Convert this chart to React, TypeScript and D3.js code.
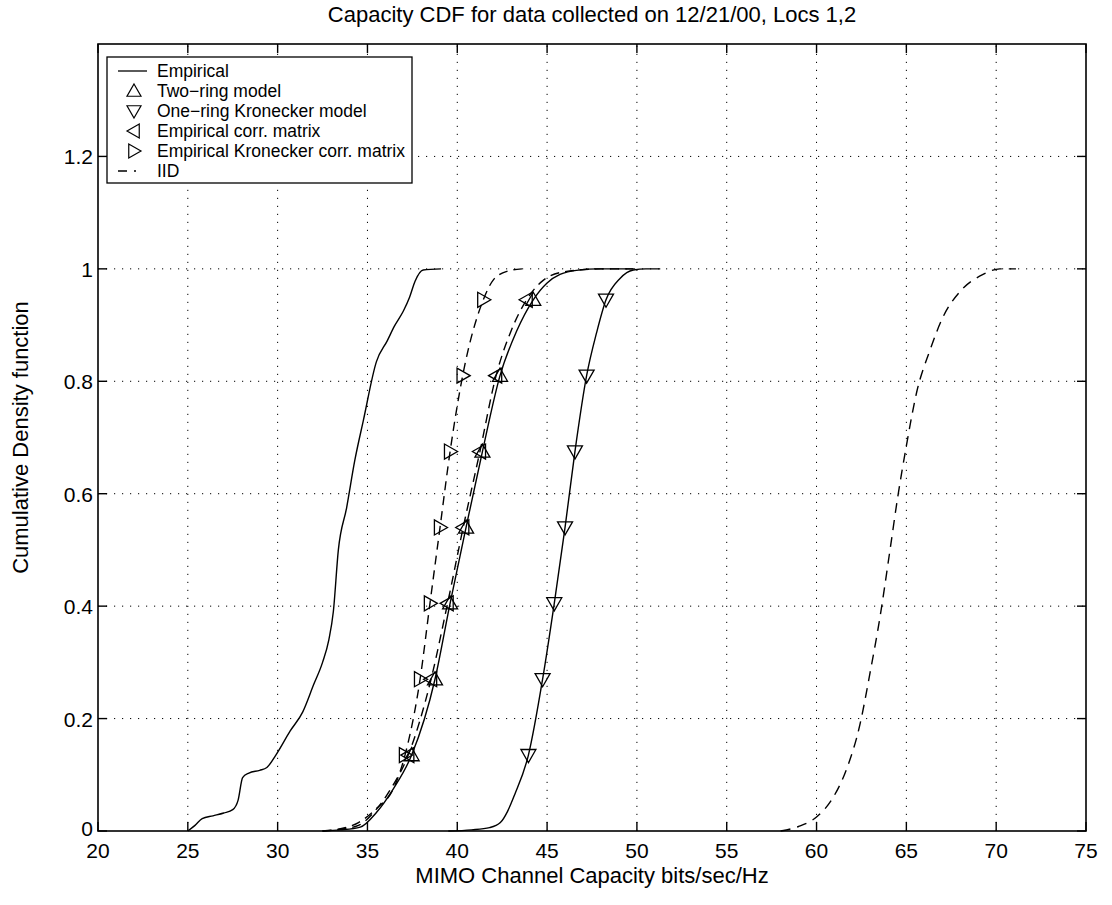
import React from "react";
import * as d3 from "d3";

const xTicks = [20, 25, 30, 35, 40, 45, 50, 55, 60, 65, 70, 75];
const yTicks = [0, 0.2, 0.4, 0.6, 0.8, 1, 1.2];

const empirical: [number, number][] = [
  [25.0, 0], [25.4, 0.01], [25.8, 0.022], [26.4, 0.027], [27.0, 0.032], [27.5, 0.038],
  [27.8, 0.055], [28.05, 0.095], [28.4, 0.103], [29.0, 0.108], [29.4, 0.113], [29.9, 0.135],
  [30.7, 0.178], [31.4, 0.212], [32.0, 0.26], [32.5, 0.3], [32.85, 0.34], [33.1, 0.39],
  [33.38, 0.5], [33.84, 0.575], [34.3, 0.66], [34.77, 0.73], [35.5, 0.835], [36.1, 0.872],
  [36.5, 0.898], [37.0, 0.925], [37.35, 0.95], [37.65, 0.978], [38.1, 0.998], [39.1, 1.0],
];

const twoRing: [number, number][] = [
  [32.5, 0], [33.5, 0.002], [34.6, 0.007], [35.5, 0.033], [36.44, 0.075], [37.46, 0.135],
  [38.76, 0.27], [39.6, 0.405], [40.49, 0.54], [41.4, 0.675], [42.38, 0.81], [43.3, 0.889],
  [44.23, 0.945], [45.0, 0.975], [45.72, 0.99], [46.8, 0.998], [47.8, 1.0], [49.8, 1.0],
];

const empCorr: [number, number][] = [
  [32.5, 0], [33.5, 0.003], [34.5, 0.01], [35.4, 0.035], [36.3, 0.075], [37.27, 0.135],
  [38.54, 0.27], [39.46, 0.405], [40.33, 0.54], [41.26, 0.675], [42.16, 0.81], [43.0, 0.89],
  [43.86, 0.945], [44.8, 0.98], [46.0, 0.995], [48.0, 1.0], [50.0, 1.0],
];

const empKron: [number, number][] = [
  [32.5, 0], [33.5, 0.004], [34.5, 0.015], [35.5, 0.04], [36.44, 0.075], [37.09, 0.135],
  [37.93, 0.27], [38.48, 0.405], [39.04, 0.54], [39.6, 0.675], [40.3, 0.81], [41.45, 0.945],
  [42.0, 0.98], [42.8, 0.996], [43.6, 1.0],
];

const oneRing: [number, number][] = [
  [39.5, 0], [40.8, 0.002], [41.8, 0.006], [42.4, 0.015], [42.8, 0.035], [43.2, 0.065],
  [43.96, 0.135], [44.75, 0.27], [45.4, 0.405], [46.0, 0.54], [46.55, 0.675], [47.2, 0.81],
  [47.76, 0.887], [48.28, 0.945], [49.06, 0.983], [49.8, 0.998], [50.5, 1.0], [51.3, 1.0],
];

const iid: [number, number][] = [
  [58.0, 0], [59.0, 0.008], [60.0, 0.025], [60.93, 0.06], [61.67, 0.11], [62.42, 0.19],
  [62.97, 0.28], [63.53, 0.38], [64.09, 0.5], [64.5, 0.59], [65.0, 0.685], [65.57, 0.78],
  [66.31, 0.855], [67.05, 0.915], [68.0, 0.96], [69.27, 0.99], [70.2, 1.0], [71.1, 1.0],
];

const markY = [0.135, 0.27, 0.405, 0.54, 0.675, 0.81, 0.945];
const twoRingMarkX = [37.46, 38.76, 39.6, 40.49, 41.4, 42.38, 44.23];
const empCorrMarkX = [37.27, 38.54, 39.46, 40.33, 41.26, 42.16, 43.86];
const empKronMarkX = [37.09, 37.93, 38.48, 39.04, 39.6, 40.3, 41.45];
const oneRingMarkX = [43.96, 44.75, 45.4, 46.0, 46.55, 47.2, 48.28];

const legendLabels = [
  "Empirical",
  "Two\u2212ring model",
  "One\u2212ring Kronecker model",
  "Empirical corr. matrix",
  "Empirical Kronecker corr. matrix",
  "IID",
];

const FONT = "'Liberation Sans', Arial, Helvetica, sans-serif";

type Dir = "up" | "down" | "left" | "right";

function triPath(cx: number, cy: number, dir: Dir, r = 7.5): string {
  let pts: [number, number][];
  if (dir === "up") pts = [[0, -r], [r, r * 0.75], [-r, r * 0.75]];
  else if (dir === "down") pts = [[0, r], [r, -r * 0.75], [-r, -r * 0.75]];
  else if (dir === "left") pts = [[-r, 0], [r * 0.75, -r], [r * 0.75, r]];
  else pts = [[r, 0], [-r * 0.75, -r], [-r * 0.75, r]];
  return "M" + pts.map((p) => `${cx + p[0]},${cy + p[1]}`).join("L") + "Z";
}

export default function App() {
  const left = 98, right = 1086, top = 44, bottom = 831;
  const x = d3.scaleLinear().domain([20, 75]).range([left, right]);
  const y = d3.scaleLinear().domain([0, 1.4]).range([bottom, top]);
  const line = d3
    .line<[number, number]>()
    .x((d) => x(d[0]))
    .y((d) => y(d[1]))
    .curve(d3.curveMonotoneX);

  const tickLen = 9;
  const lw = 1.4;

  const markers = (xs: number[], dir: Dir, key: string) =>
    xs.map((xv, i) => (
      <path key={key + i} d={triPath(x(xv), y(markY[i]), dir)} fill="none" stroke="#000" strokeWidth={1.3} />
    ));

  const lgX = 107, lgY = 57, lgW = 305, lgH = 126;
  const rowY = (i: number) => lgY + 14 + i * 20;

  return (
    <svg
      width={1112}
      height={905}
      style={{ position: "absolute", left: 0, top: 0, background: "#fff" }}
      fontFamily={FONT}
    >
      <rect x={0} y={0} width={1112} height={905} fill="#fff" />
      {/* grid */}
      <g stroke="#000" strokeWidth={1} strokeDasharray="1.2,6.8">
        {xTicks.slice(1, -1).map((t) => (
          <line key={"gx" + t} x1={x(t)} x2={x(t)} y1={bottom} y2={top} />
        ))}
        {yTicks.slice(1).map((t) => (
          <line key={"gy" + t} x1={left} x2={right} y1={y(t)} y2={y(t)} />
        ))}
      </g>

      {/* curves */}
      <g fill="none" stroke="#000" strokeWidth={lw}>
        <path d={line(empirical) || ""} />
        <path d={line(twoRing) || ""} />
        <path d={line(empCorr) || ""} strokeDasharray="9,6" />
        <path d={line(empKron) || ""} strokeDasharray="9,6" />
        <path d={line(oneRing) || ""} />
        <path d={line(iid) || ""} strokeDasharray="10,7" />
      </g>

      {/* markers */}
      {markers(twoRingMarkX, "up", "tr")}
      {markers(empCorrMarkX, "left", "ec")}
      {markers(empKronMarkX, "right", "ek")}
      {markers(oneRingMarkX, "down", "or")}

      {/* frame and ticks */}
      <rect x={left} y={top} width={right - left} height={bottom - top} fill="none" stroke="#000" strokeWidth={1.6} />
      <g stroke="#000" strokeWidth={1.4}>
        {xTicks.map((t) => (
          <g key={"tx" + t}>
            <line x1={x(t)} x2={x(t)} y1={bottom} y2={bottom - tickLen} />
            <line x1={x(t)} x2={x(t)} y1={top} y2={top + tickLen} />
          </g>
        ))}
        {yTicks.map((t) => (
          <g key={"ty" + t}>
            <line x1={left} x2={left + tickLen} y1={y(t)} y2={y(t)} />
            <line x1={right} x2={right - tickLen} y1={y(t)} y2={y(t)} />
          </g>
        ))}
      </g>

      {/* tick labels */}
      <g fontSize={21} fill="#000">
        {xTicks.map((t) => (
          <text key={"lx" + t} x={x(t)} y={bottom + 27} textAnchor="middle">
            {t}
          </text>
        ))}
        {yTicks.map((t) => (
          <text key={"ly" + t} x={left - 5} y={t === 0 ? y(t) + 5 : y(t) + 8} textAnchor="end">
            {t === 0 ? "0" : d3.format("~g")(t)}
          </text>
        ))}
      </g>

      {/* titles */}
      <text x={(left + right) / 2} y={22} textAnchor="middle" fontSize={22}>
        Capacity CDF for data collected on 12/21/00, Locs 1,2
      </text>
      <text x={(left + right) / 2} y={883} textAnchor="middle" fontSize={22}>
        MIMO Channel Capacity bits/sec/Hz
      </text>
      <text
        transform={`translate(28,${(top + bottom) / 2}) rotate(-90)`}
        textAnchor="middle"
        fontSize={22}
      >
        Cumulative Density function
      </text>

      {/* legend */}
      <rect x={lgX} y={lgY} width={lgW} height={lgH} fill="#fff" stroke="#000" strokeWidth={1.3} />
      <g fontSize={17.5} fill="#000">
        {legendLabels.map((lab, i) => (
          <text key={"lg" + i} x={157} y={rowY(i) + 6}>
            {lab}
          </text>
        ))}
      </g>
      <line x1={118} x2={147} y1={rowY(0)} y2={rowY(0)} stroke="#000" strokeWidth={1.3} />
      <path d={triPath(134, rowY(1), "up", 7)} fill="none" stroke="#000" strokeWidth={1.2} />
      <path d={triPath(134, rowY(2), "down", 7)} fill="none" stroke="#000" strokeWidth={1.2} />
      <path d={triPath(134, rowY(3), "left", 7)} fill="none" stroke="#000" strokeWidth={1.2} />
      <path d={triPath(134, rowY(4), "right", 7)} fill="none" stroke="#000" strokeWidth={1.2} />
      <line x1={118} x2={147} y1={rowY(5)} y2={rowY(5)} stroke="#000" strokeWidth={1.3} strokeDasharray="9,7,2,20" />
    </svg>
  );
}
